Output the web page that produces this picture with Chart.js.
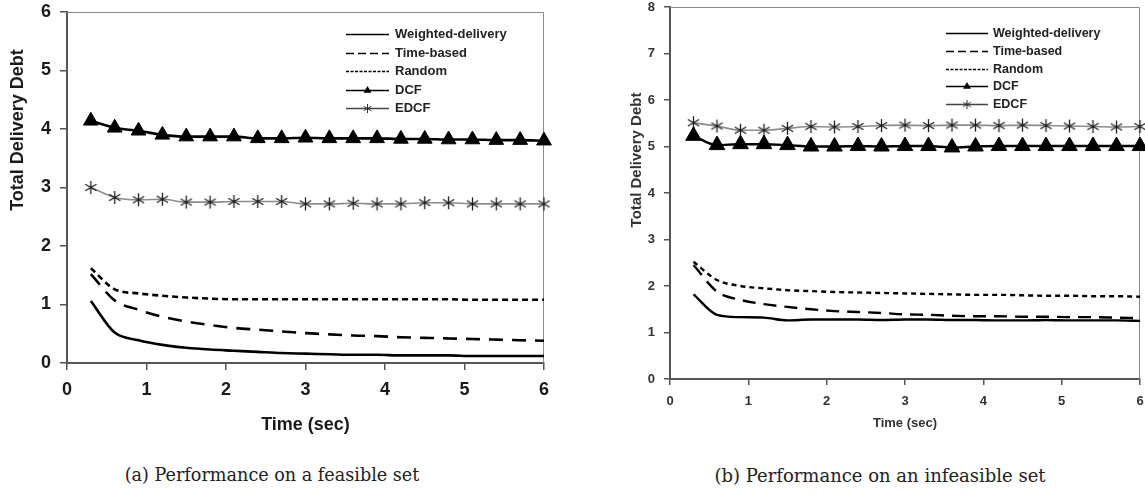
<!DOCTYPE html>
<html lang="en">
<head>
  <meta charset="UTF-8" />
  <title>Total Delivery Debt</title>
  <script src="https://cdn.jsdelivr.net/npm/chart.js"></script>
  <style>
    body {
      margin: 0;
      background: #fff;
      width: 1145px;
      height: 495px;
      position: relative;
      overflow: hidden;
    }
    .panel {
      position: absolute;
      top: 0;
    }
    #panelA { left: 0; }
    #panelB { left: 580px; }
    .caption {
      position: absolute;
      top: 465px;
      font-family: "DejaVu Serif", serif;
      color: #222;
      white-space: nowrap;
      transform: translateX(-50%);
    }
  </style>
</head>
<body>
  <div class="panel" id="panelA"><canvas id="chartA" width="560" height="440"></canvas></div>
  <div class="panel" id="panelB"><canvas id="chartB" width="565" height="450"></canvas></div>
  <div class="caption" style="left: 272px; font-size: 17.6px;">(a) Performance on a feasible set</div>
  <div class="caption" style="left: 880px; font-size: 18px;">(b) Performance on an infeasible set</div>

  <script>
    // time axis (sec)
    const times = [0.3, 0.6, 0.9, 1.2, 1.5, 1.8, 2.1, 2.4, 2.7, 3.0, 3.3, 3.6, 3.9, 4.2, 4.5, 4.8, 5.1, 5.4, 5.7, 6.0];
    const seriesNames = ["Weighted-delivery", "Time-based", "Random", "DCF", "EDCF"];

    // (a) feasible set
    const feasWeighted = [1.06, 0.52, 0.39, 0.31, 0.26, 0.23, 0.21, 0.19, 0.17, 0.16, 0.15, 0.14, 0.14, 0.13, 0.13, 0.13, 0.12, 0.12, 0.12, 0.12];
    const feasTime     = [1.52, 1.07, 0.91, 0.79, 0.71, 0.65, 0.60, 0.57, 0.54, 0.51, 0.49, 0.47, 0.46, 0.44, 0.43, 0.42, 0.41, 0.40, 0.39, 0.38];
    const feasRandom   = [1.62, 1.26, 1.19, 1.15, 1.12, 1.10, 1.09, 1.09, 1.09, 1.09, 1.09, 1.09, 1.09, 1.09, 1.09, 1.09, 1.08, 1.08, 1.08, 1.08];
    const feasDCF      = [4.14, 4.02, 3.97, 3.90, 3.87, 3.87, 3.87, 3.84, 3.84, 3.85, 3.84, 3.84, 3.84, 3.83, 3.83, 3.82, 3.82, 3.81, 3.81, 3.80];
    const feasEDCF     = [3.00, 2.83, 2.79, 2.80, 2.75, 2.75, 2.76, 2.76, 2.76, 2.72, 2.72, 2.73, 2.72, 2.72, 2.74, 2.74, 2.72, 2.72, 2.72, 2.72];

    // (b) infeasible set
    const infWeighted = [1.82, 1.38, 1.33, 1.32, 1.26, 1.28, 1.28, 1.28, 1.27, 1.28, 1.28, 1.27, 1.27, 1.26, 1.26, 1.27, 1.26, 1.26, 1.26, 1.25];
    const infTime     = [2.45, 1.88, 1.70, 1.61, 1.55, 1.50, 1.46, 1.44, 1.42, 1.39, 1.38, 1.36, 1.35, 1.35, 1.34, 1.34, 1.33, 1.33, 1.32, 1.31];
    const infRandom   = [2.52, 2.13, 2.00, 1.95, 1.91, 1.89, 1.87, 1.86, 1.85, 1.84, 1.83, 1.82, 1.81, 1.81, 1.80, 1.79, 1.79, 1.78, 1.78, 1.77];
    const infDCF      = [5.23, 5.03, 5.05, 5.05, 5.03, 5.00, 5.00, 5.01, 5.00, 5.01, 5.01, 4.98, 5.00, 5.01, 5.01, 5.01, 5.01, 5.01, 5.01, 5.01];
    const infEDCF     = [5.51, 5.44, 5.35, 5.35, 5.39, 5.43, 5.42, 5.43, 5.45, 5.46, 5.45, 5.46, 5.46, 5.45, 5.46, 5.45, 5.44, 5.43, 5.42, 5.43];

    const yMaxA = 6;
    const yMaxB = 8;
    const xMax = 6;

    const SANS = "'Liberation Sans', Arial, sans-serif";

    // asterisk marker like the spreadsheet "star" (vertical bar + X)
    function makeStar(size, color, width) {
      const c = document.createElement("canvas");
      c.width = size; c.height = size;
      const g = c.getContext("2d");
      const m = size / 2, r = size / 2 - 1;
      g.strokeStyle = color;
      g.lineWidth = width;
      g.beginPath();
      g.moveTo(m, m - r); g.lineTo(m, m + r);
      g.moveTo(m - r * 0.87, m - r * 0.5); g.lineTo(m + r * 0.87, m + r * 0.5);
      g.moveTo(m - r * 0.87, m + r * 0.5); g.lineTo(m + r * 0.87, m - r * 0.5);
      g.stroke();
      return c;
    }

    function pts(arr) {
      return arr.map((v, i) => ({ x: times[i], y: v }));
    }

    // thin frame on top and right of the plot
    const plotFrame = {
      id: "plotFrame",
      beforeDatasetsDraw(chart) {
        const { ctx, chartArea: a } = chart;
        ctx.save();
        ctx.strokeStyle = "#8a8a8a";
        ctx.lineWidth = 1;
        ctx.beginPath();
        ctx.moveTo(a.left, a.top + 0.5);
        ctx.lineTo(a.right - 0.5, a.top + 0.5);
        ctx.lineTo(a.right - 0.5, a.bottom);
        ctx.stroke();
        ctx.restore();
      }
    };

    // rotated y title, placed like the original (not centred on the axis)
    const sideTitle = {
      id: "sideTitle",
      afterDraw(chart, args, opts) {
        const { ctx, chartArea } = chart;
        ctx.save();
        ctx.translate(opts.x, chartArea.top + opts.dy);
        ctx.rotate(-Math.PI / 2);
        ctx.font = opts.font;
        ctx.fillStyle = opts.color;
        ctx.textAlign = "center";
        ctx.textBaseline = "middle";
        ctx.fillText(opts.text, 0, 0);
        ctx.restore();
      }
    };

    // line-sample legend inside the plot
    const seriesKey = {
      id: "seriesKey",
      afterDraw(chart, args, opts) {
        const { ctx, chartArea } = chart;
        const x0 = chartArea.right - opts.fromRight;
        chart.data.datasets.forEach((ds, i) => {
          const y = Math.round(chartArea.top + opts.top + i * opts.rowGap) + 0.5;
          ctx.save();
          ctx.strokeStyle = ds.keyColor || ds.borderColor;
          ctx.lineWidth = opts.lineWidth;
          ctx.setLineDash(ds.keyDash || []);
          ctx.beginPath();
          ctx.moveTo(x0, y);
          ctx.lineTo(x0 + opts.lineLen, y);
          ctx.stroke();
          ctx.setLineDash([]);
          const mx = x0 + opts.lineLen / 2;
          if (ds.keyMarker === "triangle") {
            const r = opts.markerSize;
            ctx.fillStyle = "#000";
            ctx.beginPath();
            ctx.moveTo(mx, y - r);
            ctx.lineTo(mx + r * 0.87, y + r * 0.5);
            ctx.lineTo(mx - r * 0.87, y + r * 0.5);
            ctx.closePath();
            ctx.fill();
          } else if (ds.keyMarker === "star") {
            const s = opts.markerSize * 2 + 2;
            ctx.drawImage(makeStar(s, "#333", 1), mx - s / 2, y - s / 2);
          }
          ctx.fillStyle = opts.color;
          ctx.font = opts.font;
          ctx.textBaseline = "middle";
          ctx.fillText(ds.label, x0 + opts.lineLen + opts.textGap, y);
          ctx.restore();
        });
      }
    };

    function buildDatasets(w, t, r, d, e, s) {
      return [
        { label: seriesNames[0], data: pts(w), borderColor: "#000", borderWidth: s.lw, pointRadius: 0, keyDash: [] },
        { label: seriesNames[1], data: pts(t), borderColor: "#000", borderWidth: s.lw, borderDash: s.longDash, pointRadius: 0, keyDash: [8, 4] },
        { label: seriesNames[2], data: pts(r), borderColor: "#000", borderWidth: s.lw, borderDash: s.shortDash, pointRadius: 0, keyDash: [3, 1.5] },
        { label: seriesNames[3], data: pts(d), borderColor: "#000", borderWidth: s.lw, pointStyle: "triangle",
          pointRadius: s.tri, pointBackgroundColor: "#000", pointBorderColor: "#000", pointBorderWidth: 1, keyMarker: "triangle" },
        { label: seriesNames[4], data: pts(e), borderColor: "#8c8c8c", borderWidth: 1.6, pointStyle: makeStar(s.star, "#1e1e1e", 1.3),
          pointRadius: s.star / 2, keyColor: "#444", keyMarker: "star" }
      ].map(ds => Object.assign(ds, { clip: false }));
    }

    function buildOptions(p) {
      return {
        responsive: false,
        animation: false,
        layout: { padding: p.padding, autoPadding: false },
        elements: { line: { cubicInterpolationMode: "monotone" } },
        plugins: {
          legend: { display: false },
          tooltip: { enabled: false },
          sideTitle: p.sideTitle,
          seriesKey: p.key
        },
        scales: {
          x: {
            type: "linear",
            min: 0,
            max: xMax,
            ticks: { stepSize: 1, color: p.tickColor, padding: p.xPad, font: { family: SANS, size: p.tickSize, weight: "bold", lineHeight: 1 } },
            grid: { drawOnChartArea: false, tickLength: p.tickLen, color: p.axisColor, lineWidth: 1.5 },
            border: { color: p.axisColor, width: 2 },
            title: {
              display: true,
              text: "Time (sec)",
              color: p.tickColor,
              font: { family: SANS, size: p.xTitleSize, weight: "bold", lineHeight: 1.2 },
              padding: { top: 0, bottom: p.xTitleBottom }
            },
            afterFit: s => { s.height = p.xHeight; s.paddingLeft = 0; s.paddingRight = 0; }
          },
          y: {
            min: 0,
            max: p.yMax,
            ticks: { stepSize: 1, color: p.tickColor, padding: p.yPad, font: { family: SANS, size: p.tickSize, weight: "bold", lineHeight: 1 } },
            grid: { drawOnChartArea: false, tickLength: p.tickLen, color: p.axisColor, lineWidth: 1.5 },
            border: { color: p.axisColor, width: 2 },
            afterFit: s => { s.width = p.yWidth; s.paddingTop = 0; s.paddingBottom = 0; }
          }
        }
      };
    }

    new Chart(document.getElementById("chartA"), {
      type: "line",
      data: { datasets: buildDatasets(feasWeighted, feasTime, feasRandom, feasDCF, feasEDCF,
        { lw: 2.6, longDash: [14, 9], shortDash: [6, 4], tri: 8.5, star: 15 }) },
      options: buildOptions({
        padding: { top: 12, right: 16, left: 0, bottom: 0 },
        yMax: yMaxA,
        tickColor: "#1a1a1a",
        axisColor: "#555",
        tickSize: 18,
        xTitleSize: 18,
        tickLen: 7,
        xPad: 11,
        yPad: 9,
        xTitleBottom: 4,
        xHeight: 77,
        yWidth: 67,
        sideTitle: { text: "Total Delivery Debt", x: 18, dy: 118, font: "bold 18px " + SANS, color: "#1a1a1a" },
        key: { fromRight: 198, top: 22, rowGap: 18.5, lineLen: 43, textGap: 6, lineWidth: 1.4, markerSize: 4.5,
               font: "bold 13px " + SANS, color: "#222" }
      }),
      plugins: [plotFrame, sideTitle, seriesKey]
    });

    new Chart(document.getElementById("chartB"), {
      type: "line",
      data: { datasets: buildDatasets(infWeighted, infTime, infRandom, infDCF, infEDCF,
        { lw: 2.4, longDash: [13, 8], shortDash: [5, 4], tri: 9, star: 15 }) },
      options: buildOptions({
        padding: { top: 7, right: 5, left: 0, bottom: 0 },
        yMax: yMaxB,
        tickColor: "#333",
        axisColor: "#555",
        tickSize: 13,
        xTitleSize: 13,
        tickLen: 6,
        xPad: 10,
        yPad: 9,
        xTitleBottom: 19,
        xHeight: 71,
        yWidth: 90,
        sideTitle: { text: "Total Delivery Debt", x: 57, dy: 153, font: "bold 15px " + SANS, color: "#333" },
        key: { fromRight: 194, top: 26, rowGap: 17.8, lineLen: 42, textGap: 5, lineWidth: 1.4, markerSize: 4.5,
               font: "bold 12.5px " + SANS, color: "#222" }
      }),
      plugins: [plotFrame, sideTitle, seriesKey]
    });
  </script>
</body>
</html>
